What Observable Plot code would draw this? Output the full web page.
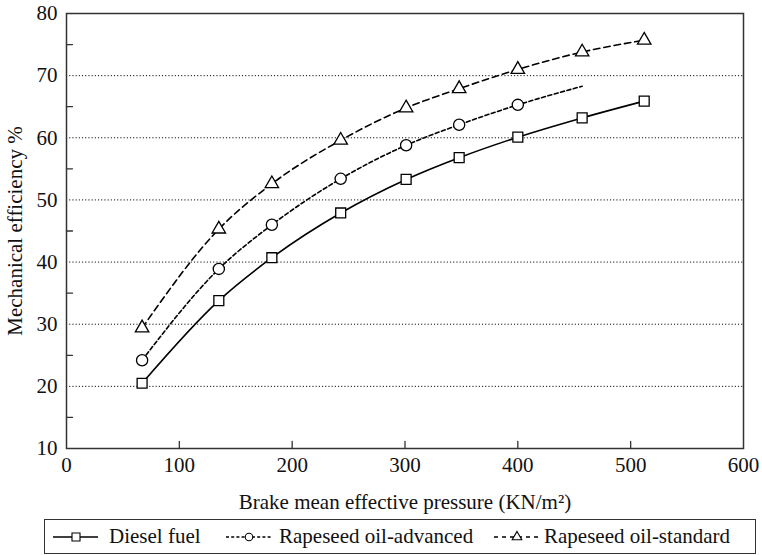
<!DOCTYPE html>
<html><head><meta charset="utf-8">
<script src="https://cdn.jsdelivr.net/npm/d3@7"></script>
<script src="https://cdn.jsdelivr.net/npm/@observablehq/plot@0.6"></script>
<style>
body{margin:0;background:#fff;font-family:"Liberation Serif",serif;}
#wrap{position:relative;width:762px;height:555px;overflow:hidden;}
#legend{position:absolute;left:44px;top:519px;width:712px;height:35px;border:1.3px solid #333;box-sizing:border-box;font-size:21px;color:#111;}
#legend .sw{position:absolute;top:8px;}
#legend .tx{position:absolute;top:4px;white-space:nowrap;line-height:24px;}
</style></head><body><div id="wrap"></div>
<script>
// ---- data ----
const pressure = [67, 135, 182, 243, 301, 348, 400, 457, 512];
const diesel   = [20.5, 33.8, 40.7, 47.9, 53.3, 56.8, 60.1, 63.2, 65.9];
const advanced = [24.2, 38.9, 46.0, 53.4, 58.8, 62.1, 65.3, 68.3, null];
const advancedMarked = [1, 1, 1, 1, 1, 1, 1, 0, 0];
const standard = [29.4, 45.3, 52.6, 59.6, 64.8, 67.9, 71.0, 73.8, 75.7];
const seriesNames = ["Diesel fuel", "Rapeseed oil-advanced", "Rapeseed oil-standard"];
const xTicks = [0, 100, 200, 300, 400, 500, 600];
const yTicks = [10, 20, 30, 40, 50, 60, 70, 80];
const yGrid = [20, 30, 40, 50, 60, 70];
const yMinor = [15, 25, 35, 45, 55, 65, 75];
const xLabel = "Brake mean effective pressure (KN/m²)";
const yLabel = "Mechanical efficiency %";

// ---- styling per series ----
const styles = [
  {symbol: "square", r: 5.6, dash: null},
  {symbol: "circle", r: 5.6, dash: "4,2.6"},
  {symbol: "triangle", r: 5.0, dash: "6.5,4"}
];
const valueSets = [diesel, advanced, standard];
const markedSets = [pressure.map(() => 1), advancedMarked, pressure.map(() => 1)];

const rowsBySeries = valueSets.map((vals, si) =>
  vals.map((v, i) => ({series: seriesNames[si], x: pressure[i], y: v, marked: markedSets[si][i]}))
      .filter(d => d.y != null)
);

const tickShape = {draw(context, length) { context.moveTo(0, 0); context.lineTo(0, -length); }};

const marks = [
  Plot.gridY(yGrid, {stroke: "#000", strokeOpacity: 1, strokeWidth: 1, strokeDasharray: "1.1,2.1"}),
  Plot.vector(xTicks.slice(1, -1), {x: d => d, y: 10, length: 7, rotate: 0, anchor: "start", shape: tickShape, stroke: "#333", strokeWidth: 1.3}),
  Plot.vector(yMinor, {x: 0, y: d => d, length: 6, rotate: 90, anchor: "start", shape: tickShape, stroke: "#333", strokeWidth: 1.3}),
  Plot.axisX(xTicks, {tickSize: 0, tickPadding: 9, label: xLabel, labelAnchor: "center", labelOffset: 60, labelArrow: "none", fill: "#111"}),
  Plot.axisY(yTicks, {tickSize: 0, tickPadding: 9, label: yLabel, labelAnchor: "center", labelOffset: 59, labelArrow: "none", fill: "#111"}),
  Plot.frame({stroke: "#333", strokeWidth: 1.5})
];
rowsBySeries.forEach((rows, si) => {
  marks.push(Plot.line(rows, {x: "x", y: "y", stroke: "#000", strokeWidth: 1.6, strokeDasharray: styles[si].dash, curve: "monotone-x"}));
});
rowsBySeries.forEach((rows, si) => {
  marks.push(Plot.dot(rows.filter(d => d.marked), {x: "x", y: "y", symbol: styles[si].symbol, r: styles[si].r, fill: "#fff", stroke: "#000", strokeWidth: 1.3}));
});

const chart = Plot.plot({
  width: 762, height: 515,
  marginLeft: 66, marginRight: 19, marginTop: 13, marginBottom: 67,
  style: {fontFamily: "'Liberation Serif', serif", fontSize: "21px", color: "#111", background: "#fff"},
  x: {domain: [0, 600]},
  y: {domain: [10, 80]},
  marks
});
const wrap = document.getElementById("wrap");
wrap.appendChild(chart);

// ---- legend ----
const legend = document.createElement("div");
legend.id = "legend";
const swLeft = [8, 181, 449], txLeft = [64, 234, 499];
const swSym = [
  {type: d3.symbolSquare, size: 64},
  {type: d3.symbolCircle, size: 44},
  {type: d3.symbolTriangle, size: 40}
];
const swDash = [null, "3,2.2", "4,4"];
seriesNames.forEach((name, i) => {
  const svg = d3.create("svg").attr("class", "sw").attr("width", 46).attr("height", 18).style("left", swLeft[i] + "px");
  svg.append("line").attr("x1", 0).attr("x2", 45).attr("y1", 9).attr("y2", 9)
     .attr("stroke", "#000").attr("stroke-width", 1.5).attr("stroke-dasharray", swDash[i]);
  svg.append("path").attr("transform", "translate(23,9)").attr("d", d3.symbol(swSym[i].type, swSym[i].size)())
     .attr("fill", "#fff").attr("stroke", "#000").attr("stroke-width", 1.1);
  legend.appendChild(svg.node());
  const t = document.createElement("div");
  t.className = "tx"; t.style.left = txLeft[i] + "px"; t.textContent = name;
  legend.appendChild(t);
});
wrap.appendChild(legend);
</script></body></html>
